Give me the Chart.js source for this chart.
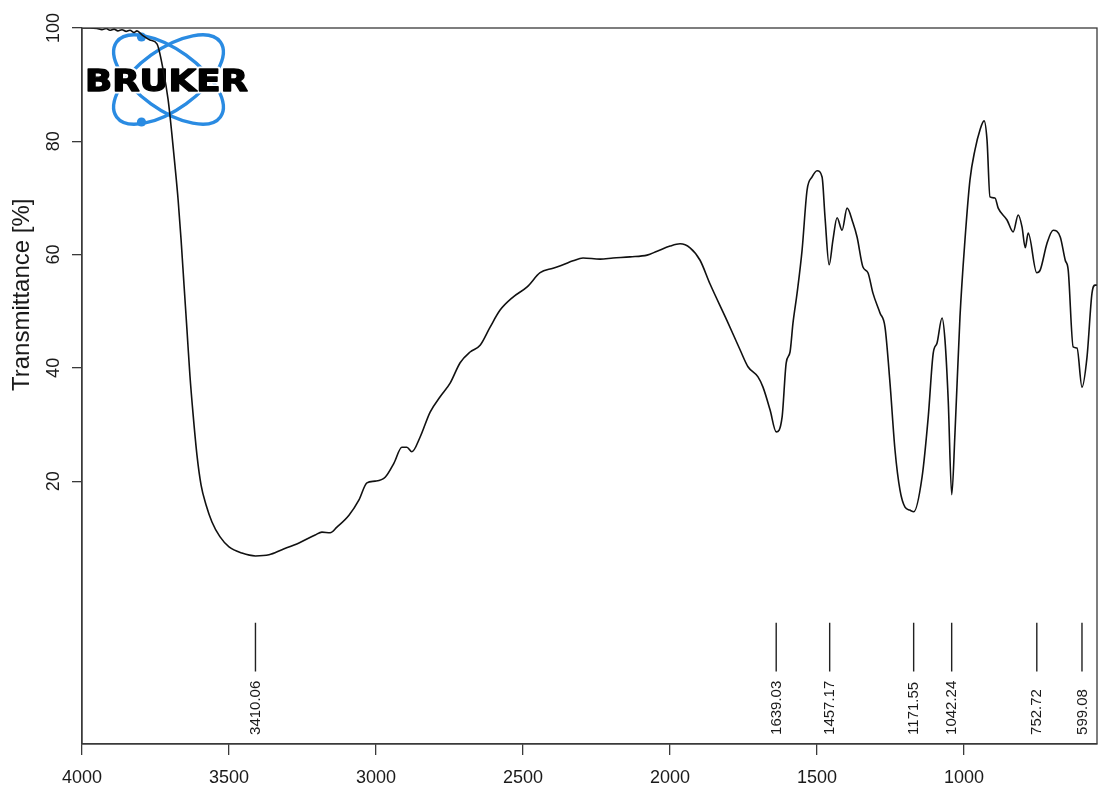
<!DOCTYPE html>
<html>
<head>
<meta charset="utf-8">
<title>IR spectrum</title>
<script src="https://cdn.jsdelivr.net/npm/chart.js@4.4.1/dist/chart.umd.min.js"></script>
<style>
  html, body { margin: 0; padding: 0; background: #ffffff; }
  #wrap { width: 1099px; height: 792px; }
</style>
</head>
<body>
<div id="wrap"><canvas id="ir" width="1099" height="792"></canvas></div>
<script>
// Wavenumber (cm-1) and transmittance (%) of the measured spectrum
const wavenumbers = [
  4000, 3973, 3949, 3932, 3918, 3905, 3891, 3878, 3864, 3850, 3837, 3823, 3813, 3796, 3769, 3745,
  3724, 3707, 3694, 3684, 3673, 3663, 3653, 3643, 3633, 3622, 3609, 3595, 3578, 3558, 3531, 3500,
  3456, 3410, 3364, 3320, 3262, 3207, 3184, 3156, 3133, 3092, 3058, 3031, 3003, 2969, 2939, 2912,
  2895, 2878, 2850, 2816, 2782, 2748, 2714, 2680, 2646, 2612, 2578, 2534, 2486, 2442, 2398, 2364,
  2330, 2296, 2238, 2194, 2136, 2078, 2044, 2000, 1966, 1932, 1898, 1864, 1806, 1762, 1735,
  1701, 1684, 1660, 1639, 1619, 1605, 1592, 1582, 1568, 1551, 1534, 1517, 1500, 1483, 1473, 1459,
  1446, 1432, 1415, 1398, 1378, 1364, 1344, 1327, 1310, 1286, 1269, 1252, 1235, 1218, 1201, 1185,
  1171, 1143, 1122, 1105, 1092, 1075, 1065, 1054, 1042, 1031, 1014, 997, 980, 963, 946, 932,
  922, 912, 895, 884, 854, 833, 816, 803, 792, 782, 753, 741, 718, 697, 673, 656,
  646, 629, 616, 599, 582, 565, 554, 548
];
const transmittance = [
  100.0, 100.0, 99.9, 99.7, 99.9, 99.6, 99.8, 99.5, 99.7, 99.4, 99.6, 99.2, 99.5, 98.8, 97.9, 97.2,
  92.6, 87.3, 81.1, 75.8, 69.6, 62.6, 54.6, 46.7, 38.7, 31.7, 24.6, 19.3, 15.8, 12.8, 10.2, 8.4,
  7.3, 6.8, 7.0, 7.9, 9.1, 10.5, 11.0, 10.9, 11.9, 14.0, 16.7, 19.7, 20.0, 20.7, 23.2, 26.0,
  26.0, 25.2, 27.8, 32.2, 34.9, 37.3, 40.9, 42.8, 44.0, 47.2, 50.2, 52.5, 54.3, 56.8, 57.6, 58.2,
  58.9, 59.4, 59.2, 59.4, 59.6, 59.9, 60.6, 61.5, 61.9, 61.2, 59.0, 54.8, 48.3, 43.2, 40.2,
  38.4, 36.6, 32.6, 28.7, 31.3, 40.9, 42.8, 47.9, 53.2, 60.8, 71.4, 73.7, 74.8, 73.7, 66.6, 58.2,
  62.6, 66.5, 64.3, 68.2, 65.6, 63.1, 57.8, 56.8, 53.2, 49.7, 47.2, 37.3, 25.5, 18.4, 15.4, 14.9,
  14.6, 20.7, 31.3, 42.6, 44.4, 48.8, 44.9, 34.3, 17.6, 28.5, 49.0, 62.6, 73.2, 78.5, 82.0, 83.6,
  80.2, 70.2, 70.0, 68.2, 66.1, 64.0, 67.0, 64.9, 61.2, 63.8, 56.8, 57.3, 62.0, 64.3, 63.1, 59.0,
  57.3, 43.7, 43.5, 36.6, 41.9, 53.2, 54.6, 54.6
];

// Picked band positions (cm-1)
const peakPositions = [3410.06, 1639.03, 1457.17, 1171.55, 1042.24, 752.72, 599.08];

// Axis ticks and labels
const xTickValues = [4000, 3500, 3000, 2500, 2000, 1500, 1000];
const yTickValues = [20, 40, 60, 80, 100];
const yAxisTitle = 'Transmittance [%]';
const logoText = 'BRUKER';

// Layout in axis units
const X_MIN = 548, X_MAX = 4000;
const Y_MIN = -26.4, Y_MAX = 100;
const PEAK_LINE_TOP = -5.0, PEAK_LINE_BOTTOM = -13.6, PEAK_LABEL_BASE = -24.8;

const AXIS_COLOR = '#3a3a3a';
const TEXT_COLOR = '#1a1a1a';
const FONT_FAMILY = '"Liberation Sans", Arial, Helvetica, sans-serif';

function drawLogo(ctx) {
  ctx.save();
  const cx = 168.5, cy = 79.5;
  ctx.strokeStyle = '#2a8be2';
  ctx.lineWidth = 3.4;
  [0.625, -0.625].forEach(rot => {
    ctx.beginPath();
    ctx.ellipse(cx, cy, 64, 30, rot, 0, Math.PI * 2);
    ctx.stroke();
  });
  ctx.fillStyle = '#2a8be2';
  [[141.5, 37], [141.5, 122]].forEach(([dx, dy]) => {
    ctx.beginPath();
    ctx.arc(dx, dy, 4.6, 0, Math.PI * 2);
    ctx.fill();
  });
  // wordmark, stretched to a wide heavy face
  ctx.font = 'bold 31px "DejaVu Sans", sans-serif';
  const w = ctx.measureText(logoText).width;
  ctx.translate(85, 90.5);
  ctx.scale(163 / w, 1);
  ctx.textBaseline = 'alphabetic';
  ctx.lineJoin = 'round';
  ctx.strokeStyle = '#ffffff';
  ctx.lineWidth = 5;
  ctx.strokeText(logoText, 0, 0);
  ctx.fillStyle = '#000000';
  ctx.fillText(logoText, 0, 0);
  ctx.strokeStyle = '#000000';
  ctx.lineWidth = 1.4;
  ctx.strokeText(logoText, 0, 0);
  ctx.restore();
}

const irDecor = {
  id: 'irDecor',
  beforeDatasetsDraw(chart) {
    drawLogo(chart.ctx);
  },
  afterDraw(chart) {
    const { ctx, chartArea: a, scales: { x, y } } = chart;
    ctx.save();
    // plot frame
    ctx.strokeStyle = AXIS_COLOR;
    ctx.lineWidth = 1.3;
    ctx.strokeRect(a.left, a.top, a.right - a.left, a.bottom - a.top);

    // y tick labels, written along the axis
    ctx.fillStyle = TEXT_COLOR;
    ctx.font = '18px ' + FONT_FAMILY;
    ctx.textAlign = 'center';
    ctx.textBaseline = 'alphabetic';
    yTickValues.forEach(v => {
      const py = y.getPixelForValue(v);
      ctx.save();
      ctx.translate(58.5, py);
      ctx.rotate(-Math.PI / 2);
      ctx.fillText(String(v), 0, 0);
      ctx.restore();
    });

    // y axis title
    ctx.font = '24px ' + FONT_FAMILY;
    ctx.textAlign = 'left';
    ctx.save();
    ctx.translate(28.5, 391);
    ctx.rotate(-Math.PI / 2);
    ctx.fillText(yAxisTitle, 0, 0);
    ctx.restore();

    // band position labels
    ctx.font = '15px ' + FONT_FAMILY;
    ctx.textAlign = 'left';
    ctx.textBaseline = 'middle';
    peakPositions.forEach(p => {
      const px = x.getPixelForValue(p);
      const py = y.getPixelForValue(PEAK_LABEL_BASE);
      ctx.save();
      ctx.translate(px + 0.5, py);
      ctx.rotate(-Math.PI / 2);
      ctx.fillText(p.toFixed(2), 0, 0);
      ctx.restore();
    });
    ctx.restore();
  }
};

const spectrum = wavenumbers.map((w, i) => ({ x: w, y: transmittance[i] }));
const peakMarkers = peakPositions.map(p => ({
  data: [{ x: p, y: PEAK_LINE_TOP }, { x: p, y: PEAK_LINE_BOTTOM }],
  showLine: true,
  borderColor: '#222222',
  borderWidth: 1.4,
  pointRadius: 0
}));

new Chart(document.getElementById('ir'), {
  type: 'scatter',
  data: {
    datasets: [
      {
        data: spectrum,
        showLine: true,
        borderColor: '#111111',
        borderWidth: 1.6,
        pointRadius: 0,
        cubicInterpolationMode: 'monotone',
        fill: false
      },
      ...peakMarkers
    ]
  },
  options: {
    responsive: false,
    animation: false,
    devicePixelRatio: 1,
    layout: { padding: { top: 28, right: 2, left: 0, bottom: 0 } },
    plugins: { legend: { display: false }, tooltip: { enabled: false } },
    scales: {
      x: {
        type: 'linear',
        reverse: true,
        min: X_MIN,
        max: X_MAX,
        afterBuildTicks: s => { s.ticks = xTickValues.map(v => ({ value: v })); },
        afterFit: s => { s.height = 48; },
        grid: { drawOnChartArea: false, drawTicks: true, tickLength: 11, color: AXIS_COLOR, lineWidth: 1.3 },
        border: { display: true, color: AXIS_COLOR, width: 1.3 },
        ticks: {
          color: TEXT_COLOR,
          font: { family: FONT_FAMILY, size: 18 },
          padding: 12,
          maxRotation: 0,
          minRotation: 0,
          autoSkip: false,
          callback: v => String(v)
        }
      },
      y: {
        type: 'linear',
        min: Y_MIN,
        max: Y_MAX,
        afterBuildTicks: s => { s.ticks = yTickValues.map(v => ({ value: v })); },
        afterFit: s => { s.width = 82; },
        grid: { drawOnChartArea: false, drawTicks: true, tickLength: 10, color: AXIS_COLOR, lineWidth: 1.3 },
        border: { display: true, color: AXIS_COLOR, width: 1.3 },
        ticks: { display: false }
      }
    }
  },
  plugins: [irDecor]
});
</script>
</body>
</html>
